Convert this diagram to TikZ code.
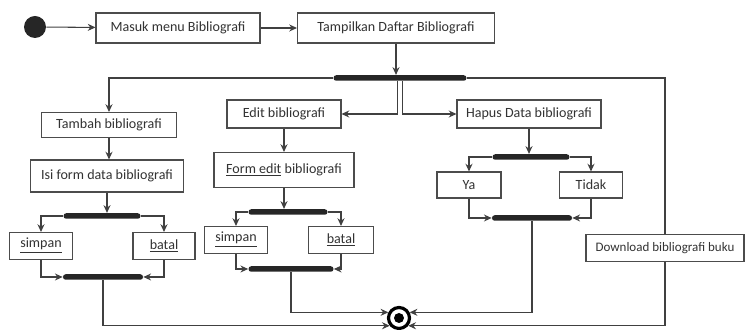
\documentclass[tikz,border=0pt]{standalone}
\usepackage{fontspec}
\setmainfont{Carlito}
\usetikzlibrary{arrows.meta}

\tikzset{
  act/.style 2 args={draw=black!70, line width=0.6pt, fill=white, inner sep=0pt,
    minimum width=#1*0.02cm, minimum height=#2*0.02cm,
    font=\fontsize{8}{9.6}\selectfont, text=black!80},
  bar/.style={fill=black!85, rounded corners=1.5pt, inner sep=0pt,
    minimum width=#1*0.02cm, minimum height=0.11cm},
  flow/.style={->, draw=black!75, line width=0.6pt}
}

\begin{document}
\begin{tikzpicture}[x=0.02cm, y=-0.02cm, >={Stealth[length=4.4pt,width=4pt]}]
\useasboundingbox (0,0) rectangle (745,330);

% start and end
\node[circle, fill=black!85, minimum size=0.44cm, inner sep=0pt] (start) at (35,27) {};
\node[circle, draw=black, line width=1.8pt, minimum size=0.42cm, inner sep=0pt] (final) at (399,318) {};
\fill[black] (final.center) circle (0.1cm);

% top row
\node[act={164}{30}] (masuk) at (178,28) {Masuk menu  Bibliografi};
\node[act={197}{30}] (tampil) at (396,28) {Tampilkan  Daftar Bibliografi};
\node[bar=133] (fork1) at (400,78) {};

% tambah
\node[act={135}{25}] (tambah) at (109,125) {Tambah bibliografi};
\node[act={153}{32}] (isi) at (107,176) {Isi form data bibliografi};
\node[bar=77] (fork2) at (102,216) {};
\node[act={63}{27}] (simpan1) at (41,246) {\underline{simpan}};
\node[act={62}{27}] (batal1) at (164,246) {\underline{batal}};
\node[bar=80] (join2) at (103,277) {};

% edit
\node[act={114}{28}] (edit) at (284,114) {Edit bibliografi};
\node[act={140}{35}] (formedit) at (284,170) {\underline{Form edit} bibliografi};
\node[bar=79] (fork3) at (288,212) {};
\node[act={63}{27}] (simpan2) at (236,240) {\underline{simpan}};
\node[act={65}{27}] (batal2) at (341,240) {\underline{batal}};
\node[bar=85] (join3) at (291,269) {};

% hapus
\node[act={144}{28}] (hapus) at (529,114) {Hapus Data bibliografi};
\node[bar=77] (fork4) at (531,157) {};
\node[act={64}{26}] (ya) at (469,185) {Ya};
\node[act={63}{26}] (tidak) at (591,185) {Tidak};
\node[bar=80] (join4) at (532,218) {};

% download
\node[act={158}{27}, font=\fontsize{7.4}{9}\selectfont] (download) at (665,248) {Download bibliografi buku};

\draw[flow] (start) -- (masuk);
\draw[flow] (masuk) -- (tampil);
\draw[flow] (tampil.south) -- (tampil.south |- fork1.north);
\draw[flow] (fork1.west) -| (tambah.north);
\draw[flow] ([xshift=-1.2pt]fork1.south) |- (edit.east);
\draw[flow] ([xshift=1.2pt]fork1.south) |- (hapus.west);
\draw[draw=black!75, line width=0.6pt] (fork1.east) -| (download.north);

\draw[flow] (tambah.south) -- (tambah.south |- isi.north);
\draw[flow] (isi.south) -- (isi.south |- fork2.north);
\draw[flow] (fork2.west) -| (simpan1.north);
\draw[flow] (fork2.east) -| (batal1.north);
\draw[flow] (simpan1.south) |- (join2.west);
\draw[flow] (batal1.south) |- (join2.east);

\draw[flow] (edit.south) -- (edit.south |- formedit.north);
\draw[flow] (formedit.south) -- (formedit.south |- fork3.north);
\draw[flow] (fork3.west) -| (simpan2.north);
\draw[flow] (fork3.east) -| (batal2.north);
\draw[flow] (simpan2.south) |- (join3.west);
\draw[flow] (batal2.south) |- (join3.east);

\draw[flow] (hapus.south) -- (hapus.south |- fork4.north);
\draw[flow] (fork4.west) -| (ya.north);
\draw[flow] (fork4.east) -| (tidak.north);
\draw[flow] (ya.south) |- (join4.west);
\draw[flow] (tidak.south) |- (join4.east);

% into the end
\draw[flow] (join2.south) |- (final.220);
\draw[flow] (join3.south) |- (final.152);
\draw[flow] (join4.south) |- (final.28);
\draw[flow] (download.south) |- (final.320);
\end{tikzpicture}
\end{document}
